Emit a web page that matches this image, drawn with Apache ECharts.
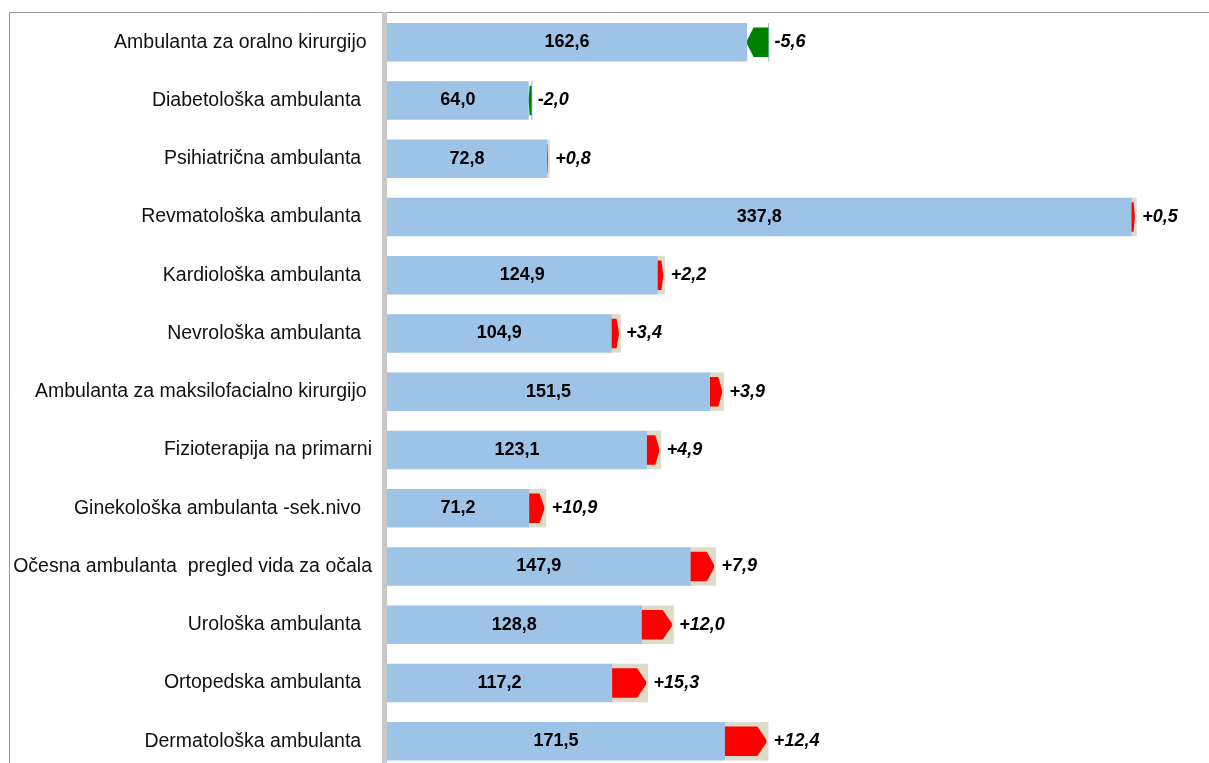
<!DOCTYPE html>
<html>
<head>
<meta charset="utf-8">
<script src="https://cdn.jsdelivr.net/npm/echarts@6/dist/echarts.min.js"></script>
<style>
html,body{margin:0;padding:0;background:#fff;overflow:hidden;}
#main{width:1209px;height:780px;}
</style>
</head>
<body>
<div id="main"></div>
<script>
const categories = [
  'Ambulanta za oralno kirurgijo ',
  'Diabetološka ambulanta  ',
  'Psihiatrična ambulanta  ',
  'Revmatološka ambulanta  ',
  'Kardiološka ambulanta  ',
  'Nevrološka ambulanta  ',
  'Ambulanta za maksilofacialno kirurgijo ',
  'Fizioterapija na primarni',
  'Ginekološka ambulanta -sek.nivo  ',
  'Očesna ambulanta  pregled vida za očala',
  'Urološka ambulanta  ',
  'Ortopedska ambulanta  ',
  'Dermatološka ambulanta  '
];
const values = [162.6, 64.0, 72.8, 337.8, 124.9, 104.9, 151.5, 123.1, 71.2, 147.9, 128.8, 117.2, 171.5];
const changes = [-5.6, -2.0, 0.8, 0.5, 2.2, 3.4, 3.9, 4.9, 10.9, 7.9, 12.0, 15.3, 12.4];

const fmt = v => v.toFixed(1).replace('.', ',');
const fmtChg = v => (v > 0 ? '+' : '') + v.toFixed(1).replace('.', ',');

const seriesData = values.map((v, i) => [v, v / (1 + changes[i] / 100), i]);

const BLUE = '#9DC3E6', BEIGE = '#DDDCCB', RED = '#FF0000', GREEN = '#008000';
const FONT = 'Liberation Sans, Arial, sans-serif';

function renderItem(params, api) {
  const i = api.value(2);
  const cur = api.value(0), prev = api.value(1);
  const x0 = api.coord([0, i])[0];
  const yc = api.coord([0, i])[1];
  const xc = api.coord([cur, i])[0];
  const xp = api.coord([prev, i])[0];
  const bh = 38.5, ah = 29.5;
  const top = yc - bh / 2;
  const children = [];
  const inc = cur >= prev;
  const xmin = Math.min(xc, xp), xmax = Math.max(xc, xp);
  if (inc) {
    children.push({type: 'rect', shape: {x: xp - 1, y: top, width: xc - xp + 2.5, height: bh}, style: {fill: BEIGE}});
  } else {
    children.push({type: 'rect', shape: {x: xp - 0.5, y: top, width: 1.2, height: bh}, style: {fill: BLUE}});
  }
  children.push({type: 'rect', shape: {x: x0, y: top, width: xmin - x0, height: bh}, style: {fill: BLUE}});
  const w = xmax - xmin;
  const tip = Math.min(9, w * 0.3);
  const at = yc - ah / 2, ab = yc + ah / 2;
  let pts;
  if (inc) {
    const a = xmin, b = xmax - 0.5;
    pts = [[a, at], [b - tip, at], [b, yc - 1.5], [b, yc + 1.5], [b - tip, ab], [a, ab]];
  } else {
    const a = xmin, b = xmax;
    pts = [[b, at], [a + tip, at], [a, yc - 2], [a, yc + 2], [a + tip, ab], [b, ab]];
  }
  children.push({type: 'polygon', shape: {points: pts}, style: {fill: inc ? RED : GREEN}});
  children.push({type: 'text', style: {text: fmt(cur), x: (x0 + xmin) / 2, y: yc, align: 'center', verticalAlign: 'middle',
    fontFamily: FONT, fontSize: 18, fontWeight: 'bold', fill: '#000'}});
  children.push({type: 'text', style: {text: fmtChg(changes[i]), x: xmax + (inc ? 7 : 6), y: yc, align: 'left', verticalAlign: 'middle',
    fontFamily: FONT, fontSize: 18, fontWeight: 'bold', fontStyle: 'italic', fill: '#000'}});
  return {type: 'group', children};
}

const chart = echarts.init(document.getElementById('main'), null, {renderer: 'canvas'});
chart.setOption({
  animation: false,
  backgroundColor: '#fff',
  grid: {left: 387, width: 775.25, top: 13, height: 757.25, containLabel: false},
  xAxis: {type: 'value', min: 0, max: 350, show: false},
  yAxis: {
    type: 'category', data: categories, inverse: true,
    axisLine: {show: false},
    axisTick: {show: false},
    axisLabel: {margin: 15, color: '#111', fontFamily: FONT, fontSize: 19.5}
  },
  graphic: [
    {type: 'line', shape: {x1: 9.5, y1: 12.5, x2: 1209, y2: 12.5}, style: {stroke: '#9A9A9A', lineWidth: 1}, silent: true},
    {type: 'line', shape: {x1: 9.5, y1: 12.5, x2: 9.5, y2: 780}, style: {stroke: '#9A9A9A', lineWidth: 1}, silent: true},
    {type: 'rect', shape: {x: 382, y: 12, width: 5, height: 768}, style: {fill: '#C8C8C8'}, silent: true}
  ],
  series: [{
    type: 'custom',
    renderItem: renderItem,
    encode: {x: [0, 1], y: 2},
    data: seriesData,
    clip: false
  }]
});
</script>
</body>
</html>
